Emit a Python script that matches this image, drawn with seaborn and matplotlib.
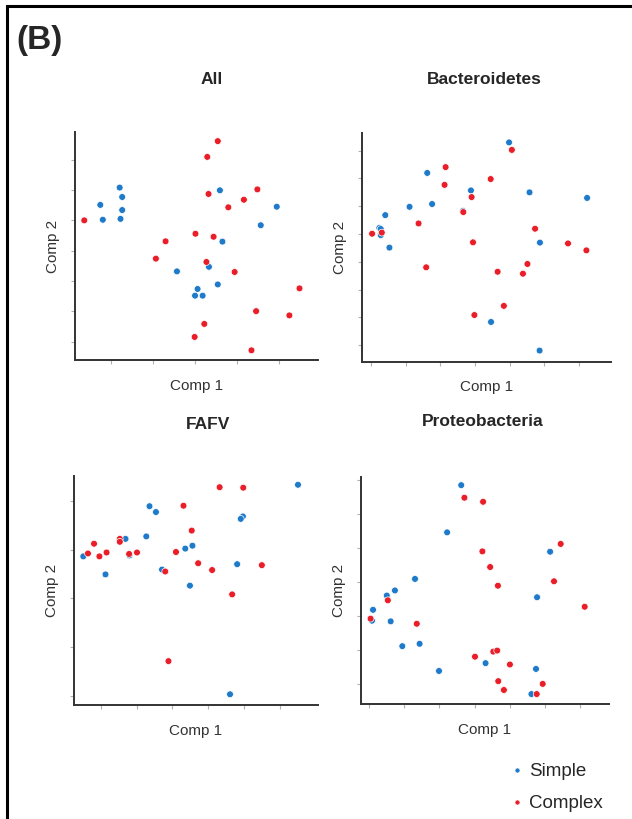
import matplotlib
matplotlib.use("Agg")
import matplotlib.pyplot as plt
import matplotlib.patches as mpatches
import pandas as pd
import seaborn as sns

PANELS = ["All", "Bacteroidetes", "FAFV", "Proteobacteria"]
GROUPS = ["Simple", "Complex"]
COLORS = {"Simple": "#1F7BC9", "Complex": "#E91E28"}

# --- All ---
all_simple_x = [-1.79, -1.73, -2.25, -1.73, -2.19, -1.77, 0.59, 1.94, 1.56, 0.65, -0.43, 0.33, 0.54, 0.06, 0.00, 0.18]
all_simple_y = [2.08, 1.77, 1.51, 1.34, 1.02, 1.05, 1.99, 1.45, 0.84, 0.30, -0.68, -0.53, -1.11, -1.26, -1.48, -1.48]
all_complex_x = [0.54, 0.29, 1.48, 0.32, 1.16, 0.79, -2.63, 0.01, 0.44, -0.70, -0.93, 0.27, 0.94, 2.48, 1.45, 2.24, 0.22, -0.01, 1.34]
all_complex_y = [3.61, 3.09, 2.02, 1.87, 1.68, 1.43, 1.00, 0.56, 0.46, 0.31, -0.26, -0.37, -0.70, -1.24, -1.99, -2.13, -2.41, -2.84, -3.28]

# --- Bacteroidetes ---
bac_simple_x = [0.98, -1.38, -0.12, 1.57, 3.23, -1.89, -1.24, -0.35, -2.59, -2.76, -2.72, -2.72, -2.47, 1.87, 0.46, 1.86]
bac_simple_y = [3.30, 2.20, 1.57, 1.50, 1.30, 0.98, 1.08, 0.83, 0.68, 0.22, 0.18, -0.04, -0.49, -0.31, -3.17, -4.20]
bac_complex_x = [1.06, -0.85, 0.45, -0.88, -0.10, -0.34, -1.63, -2.97, -2.69, 1.73, -0.06, 2.68, 3.21, -1.41, 1.51, 0.65, 1.38, 0.83, -0.02]
bac_complex_y = [3.03, 2.41, 1.98, 1.77, 1.33, 0.79, 0.38, 0.01, 0.05, 0.19, -0.30, -0.34, -0.59, -1.20, -1.08, -1.36, -1.43, -2.59, -2.92]

# --- FAFV ---
fafv_simple_x = [3.51, -0.64, -0.46, 1.97, 1.91, -1.31, -0.73, 0.56, 0.36, -2.49, -1.20, -0.29, 1.81, -1.87, 0.49, 1.61]
fafv_simple_y = [2.33, 1.89, 1.77, 1.68, 1.63, 1.22, 1.27, 1.08, 1.02, 0.86, 0.88, 0.59, 0.70, 0.49, 0.26, -1.97]
fafv_complex_x = [1.32, 1.98, 0.31, 0.54, -2.19, -1.47, -1.47, -2.36, -2.04, -1.84, -1.21, -0.99, 0.10, 0.72, -0.20, 1.11, 2.50, 1.67, -0.11]
fafv_complex_y = [2.28, 2.27, 1.90, 1.39, 1.12, 1.22, 1.16, 0.92, 0.86, 0.94, 0.91, 0.94, 0.95, 0.72, 0.55, 0.58, 0.68, 0.08, -1.29]

# --- Proteobacteria ---
pro_simple_x = [-0.38, -0.78, 2.14, -1.69, -2.26, -2.49, 1.77, -2.88, -2.91, -2.38, -1.56, -2.05, 0.31, -1.01, 1.74, 1.61]
pro_simple_y = [2.84, 1.45, 0.88, 0.08, -0.26, -0.41, -0.46, -0.83, -1.15, -1.17, -1.83, -1.90, -2.40, -2.63, -2.57, -3.31]
pro_complex_x = [-0.29, 0.24, 2.44, 0.22, 0.44, 2.25, 0.66, -2.46, 3.12, -2.95, -1.64, 0.53, 0.64, 0.01, 1.00, 1.93, 0.67, 0.83, 1.76]
pro_complex_y = [2.47, 2.35, 1.11, 0.89, 0.43, 0.01, -0.12, -0.55, -0.74, -1.09, -1.24, -2.06, -2.03, -2.21, -2.44, -3.01, -2.93, -3.19, -3.31]

# axis ranges and tick positions (tick units)
X_LIMITS = {"All": (-2.85, 2.92), "Bacteroidetes": (-3.27, 3.92), "FAFV": (-2.75, 4.07), "Proteobacteria": (-3.23, 3.80)}
Y_LIMITS = {"All": (-3.6, 3.91), "Bacteroidetes": (-4.6, 3.63), "FAFV": (-2.19, 2.51), "Proteobacteria": (-3.61, 3.09)}
X_TICKS = {"All": [-2, -1, 0, 1, 2], "Bacteroidetes": [-3, -2, -1, 0, 1, 2, 3],
           "FAFV": [-2, -1, 0, 1, 2, 3], "Proteobacteria": [-3, -2, -1, 0, 1, 2, 3]}
Y_TICKS = {"All": [-3, -2, -1, 0, 1, 2, 3], "Bacteroidetes": [-4, -3, -2, -1, 0, 1, 2, 3],
           "FAFV": [-2, -1, 0, 1, 2], "Proteobacteria": [-3, -2, -1, 0, 1, 2, 3]}

# axes rectangles and title anchors in figure fraction
AX_RECTS = {
    "All": [0.1187, 0.5604, 0.3845, 0.2784],
    "Bacteroidetes": [0.5723, 0.5584, 0.3945, 0.2789],
    "FAFV": [0.1171, 0.1392, 0.3861, 0.2796],
    "Proteobacteria": [0.5707, 0.1401, 0.3924, 0.2779],
}
TITLE_POS = {
    "All": (212 / 632, 1 - 80 / 819),
    "Bacteroidetes": (484 / 632, 1 - 80 / 819),
    "FAFV": (208 / 632, 1 - 424 / 819),
    "Proteobacteria": (483 / 632, 1 - 422 / 819),
}


def build_frame() -> pd.DataFrame:
    series = {
        "All": (all_simple_x, all_simple_y, all_complex_x, all_complex_y),
        "Bacteroidetes": (bac_simple_x, bac_simple_y, bac_complex_x, bac_complex_y),
        "FAFV": (fafv_simple_x, fafv_simple_y, fafv_complex_x, fafv_complex_y),
        "Proteobacteria": (pro_simple_x, pro_simple_y, pro_complex_x, pro_complex_y),
    }
    rows = []
    for panel, (sx, sy, cx, cy) in series.items():
        rows += [{"panel": panel, "group": "Simple", "comp1": x, "comp2": y} for x, y in zip(sx, sy)]
        rows += [{"panel": panel, "group": "Complex", "comp1": x, "comp2": y} for x, y in zip(cx, cy)]
    return pd.DataFrame(rows)


df = build_frame()

sns.set_theme(style="ticks")
plt.rcParams["font.family"] = ["Liberation Sans", "DejaVu Sans"]

fig = plt.figure(figsize=(6.32, 8.19), dpi=100)

handles = None
for panel in PANELS:
    ax = fig.add_axes(AX_RECTS[panel])
    sub = df[df["panel"] == panel]
    sns.scatterplot(data=sub, x="comp1", y="comp2", hue="group", hue_order=GROUPS,
                    palette=COLORS, s=24, edgecolor="white", linewidth=0.5, ax=ax)
    if handles is None:
        handles, labels = ax.get_legend_handles_labels()
    ax.get_legend().remove()
    ax.set_xlim(*X_LIMITS[panel])
    ax.set_ylim(*Y_LIMITS[panel])
    ax.set_xticks(X_TICKS[panel])
    ax.set_yticks(Y_TICKS[panel])
    ax.set_xticklabels([])
    ax.set_yticklabels([])
    ax.tick_params(length=3, width=0.8, color="#b0b0b0")
    for side in ["top", "right"]:
        ax.spines[side].set_visible(False)
    for side in ["left", "bottom"]:
        ax.spines[side].set_color("#333333")
        ax.spines[side].set_linewidth(1.4)
    ax.set_xlabel("Comp 1", fontsize=11, color="#333333", labelpad=7)
    ax.set_ylabel("Comp 2", fontsize=11, color="#333333", labelpad=4)
    tx, ty = TITLE_POS[panel]
    fig.text(tx, ty, panel, fontsize=12.5, fontweight="bold", ha="center", va="center")

fig.text(0.026, 1 - 41 / 819, "(B)", fontsize=24, fontweight="bold", ha="left", va="center")

fig.legend(handles, labels, loc="upper left", bbox_to_anchor=(0.788, 0.084), frameon=False,
           fontsize=13.5, handlelength=0.6, handletextpad=0.35, labelspacing=0.78,
           markerscale=0.75, borderpad=0.2)

frame = mpatches.Rectangle((0.0103, -0.05), 1.2, 1.0427, transform=fig.transFigure,
                           fill=False, edgecolor="black", linewidth=2.2, clip_on=False)
fig.patches.append(frame)

fig.savefig("out.png", dpi=100)
